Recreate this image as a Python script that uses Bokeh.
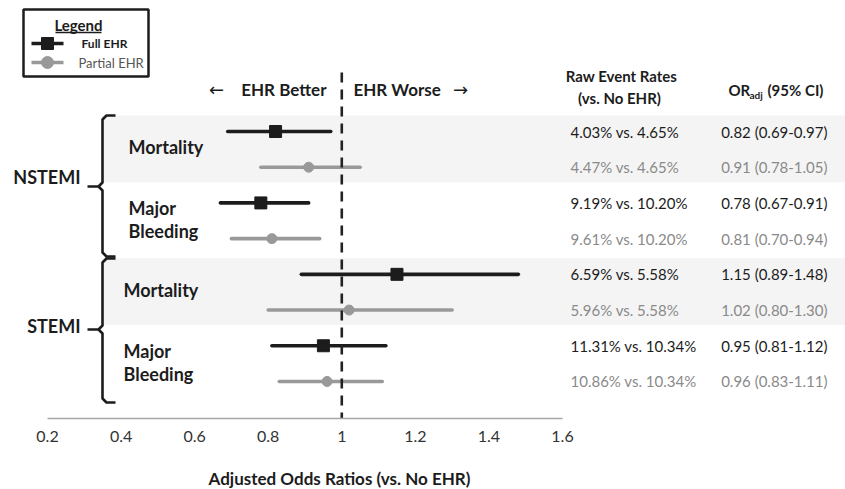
from bokeh.plotting import figure
from bokeh.layouts import column
from bokeh.models import Range1d, FixedTicker, CustomJSTickFormatter, ColumnDataSource, Label
from bokeh.core.properties import value
from bokeh.embed import file_html
from bokeh.resources import INLINE

# ---------------- data ----------------
groups = ["NSTEMI", "STEMI"]
outcomes = ["Mortality", "Major Bleeding", "Mortality", "Major Bleeding"]
outcome_group = ["NSTEMI", "NSTEMI", "STEMI", "STEMI"]
full_or = [0.82, 0.78, 1.15, 0.95]
full_lo = [0.69, 0.67, 0.89, 0.81]
full_hi = [0.97, 0.91, 1.48, 1.12]
partial_or = [0.91, 0.81, 1.02, 0.96]
partial_lo = [0.78, 0.70, 0.80, 0.83]
partial_hi = [1.05, 0.94, 1.30, 1.11]
full_rate = [4.03, 9.19, 6.59, 11.31]
partial_rate = [4.47, 9.61, 5.96, 10.86]
no_ehr_rate = [4.65, 10.20, 5.58, 10.34]
x_ticks = [0.2, 0.4, 0.6, 0.8, 1.0, 1.2, 1.4, 1.6]
null_or = 1.0
x_title = "Adjusted Odds Ratios (vs. No EHR)"

# ---------------- layout helpers (pixel layout of the page) ----------------
AX_L_PX, AX_R_PX = 47, 562          # pixel positions of first / last tick
ROW0_PX, ROW_STEP = 131, 35.71       # first row and row spacing
W, H, AXIS_Y_PX, MAIN_H = 845, 489, 418, 458


def x_at(px):
    return x_ticks[0] + (px - AX_L_PX) * (x_ticks[-1] - x_ticks[0]) / (AX_R_PX - AX_L_PX)


def y_at(py):
    return -(py - ROW0_PX) / ROW_STEP


FONT = value("Lato")
BLACK = "#1c1c1c"
GRAY = "#999999"
TEXT_GRAY = "#8a8a8a"

p = figure(width=W, height=MAIN_H, output_backend="svg", toolbar_location=None,
           x_range=Range1d(x_at(0), x_at(W)), y_range=Range1d(y_at(AXIS_Y_PX), y_at(0)),
           x_axis_location="below", y_axis_location=None,
           min_border_left=0, min_border_right=0, min_border_top=0,
           min_border_bottom=MAIN_H - AXIS_Y_PX)
p.grid.visible = False
p.outline_line_color = None
p.background_fill_color = "white"

ax = p.xaxis[0]
ax.ticker = FixedTicker(ticks=x_ticks)
ax.formatter = CustomJSTickFormatter(code="return tick.toString();")
ax.bounds = (x_ticks[0], x_ticks[-1])
ax.axis_line_color = "#a6a6a6"
ax.axis_line_width = 1.5
ax.major_tick_out = 0
ax.major_tick_in = 0
ax.minor_tick_out = 0
ax.minor_tick_in = 0
ax.major_label_standoff = 12
ax.major_label_text_font = "Lato"
ax.major_label_text_font_size = "16px"
ax.major_label_text_color = "#333333"

# ---------------- row positions ----------------
n = len(outcomes)
full_y = [-(2 * i) for i in range(n)]
partial_y = [-(2 * i + 1) for i in range(n)]

# shaded bands for the mortality rows
band_top = [full_y[i] + 0.45 for i in range(n) if outcomes[i] == "Mortality"]
band_bot = [partial_y[i] - 0.42 for i in range(n) if outcomes[i] == "Mortality"]
p.quad(left=x_at(102), right=x_at(W), top=band_top, bottom=band_bot,
       fill_color="#f4f4f4", line_color=None)

# error bars
p.segment(x0=full_lo, x1=full_hi, y0=full_y, y1=full_y, line_color=BLACK, line_width=3.6, line_cap="round")
p.segment(x0=partial_lo, x1=partial_hi, y0=partial_y, y1=partial_y, line_color=GRAY, line_width=3.6, line_cap="round")

# reference line
p.segment(x0=[null_or], x1=[null_or], y0=[y_at(72)], y1=[y_at(AXIS_Y_PX)], line_color="#222222",
          line_width=2.6, line_dash="10 7")

p.scatter(x=full_or, y=full_y, marker="square", size=12, fill_color=BLACK, line_color=BLACK)
p.scatter(x=partial_or, y=partial_y, marker="circle", size=10, fill_color=GRAY, line_color=GRAY)

# ---------------- table text ----------------
rate_full = [f"{a:.2f}% vs. {b:.2f}%" for a, b in zip(full_rate, no_ehr_rate)]
rate_part = [f"{a:.2f}% vs. {b:.2f}%" for a, b in zip(partial_rate, no_ehr_rate)]
or_full = [f"{o:.2f} ({l:.2f}-{h:.2f})" for o, l, h in zip(full_or, full_lo, full_hi)]
or_part = [f"{o:.2f} ({l:.2f}-{h:.2f})" for o, l, h in zip(partial_or, partial_lo, partial_hi)]

for ys, rt, ort, col in [(full_y, rate_full, or_full, BLACK), (partial_y, rate_part, or_part, TEXT_GRAY)]:
    src = ColumnDataSource(dict(y=ys, rt=rt, ort=ort))
    p.text(x=x_at(570), y="y", text="rt", source=src, text_font=FONT, text_font_size="15px",
           text_color=col, text_align="left", text_baseline="middle")
    p.text(x=x_at(827), y="y", text="ort", source=src, text_font=FONT, text_font_size="15px",
           text_color=col, text_align="right", text_baseline="middle")


def put(fig, px, py, text, size, bold=True, color=BLACK, align="left", font="Lato"):
    fig.add_layout(Label(x=x_at(px), y=y_at(py), text=text, text_font=font, text_font_size=f"{size}px",
                         text_font_style="bold" if bold else "normal", text_color=color,
                         text_align=align, text_baseline="middle"))


# headers
put(p, 621, 75, "Raw Event Rates", 15, align="center")
put(p, 619, 97, "(vs. No EHR)", 15, align="center")
put(p, 728, 89, "OR", 15)
put(p, 749, 94, "adj", 10)
put(p, 767, 89, "(95% CI)", 15)
put(p, 216, 89, "\u2190", 18, bold=False, align="center", font="DejaVu Sans")
put(p, 326, 89, "EHR Better", 17, align="right")
put(p, 353, 89, "EHR Worse", 17)
put(p, 460, 89, "\u2192", 18, bold=False, align="center", font="DejaVu Sans")

# outcome labels
label_x = {"NSTEMI": 128, "STEMI": 123}
for i, (o, g) in enumerate(zip(outcomes, outcome_group)):
    mid = (full_y[i] + partial_y[i]) / 2
    words = o.split(" ")
    offs = [-2] if len(words) == 1 else [-13, 10]
    for w, off in zip(words, offs):
        p.text(x=[x_at(label_x[g])], y=[mid], text=[w], y_offset=off, text_font=FONT,
               text_font_size="18px", text_font_style="bold", text_color=BLACK,
               text_align="left", text_baseline="middle")

# group labels and braces
brace_px = {"NSTEMI": (115, 186, 256), "STEMI": (258, 329, 402)}
glabel_dy = {"NSTEMI": -10, "STEMI": -4}
for g in groups:
    top, mid, bot = brace_px[g]
    vx, hx, tx, r = 102, 115, 87, 4
    p.line(x=[x_at(v) for v in (hx, vx + r, vx, vx, vx - r, tx)],
           y=[y_at(v) for v in (top, top, top + r, mid - r, mid, mid)],
           line_color=BLACK, line_width=2.6, line_join="round")
    p.line(x=[x_at(v) for v in (vx - r, vx, vx, vx + r, hx)],
           y=[y_at(v) for v in (mid, mid + r, bot - r, bot, bot)],
           line_color=BLACK, line_width=2.6, line_join="round")
    put(p, 80, mid + glabel_dy[g], g, 18, align="right")

# legend box
p.quad(left=x_at(23), right=x_at(148), top=y_at(9), bottom=y_at(76), fill_color="white",
       line_color=BLACK, line_width=2.5)
put(p, 78, 24, "Legend", 15, align="center")
p.line(x=[x_at(55), x_at(101)], y=[y_at(32), y_at(32)], line_color=BLACK, line_width=1.3)
p.line(x=[x_at(31), x_at(63)], y=[y_at(43), y_at(43)], line_color=BLACK, line_width=3.5)
p.scatter(x=[x_at(47)], y=[y_at(43)], marker="square", size=12, fill_color=BLACK, line_color=BLACK)
put(p, 81, 43, "Full EHR", 12)
p.line(x=[x_at(31), x_at(63)], y=[y_at(62), y_at(62)], line_color=GRAY, line_width=3.5)
p.scatter(x=[x_at(47)], y=[y_at(62)], marker="circle", size=12, fill_color=GRAY, line_color=GRAY)
put(p, 78, 62, "Partial EHR", 13, bold=False, color="#555555")

# ---------------- x-axis title strip ----------------
p2 = figure(width=W, height=H - MAIN_H, output_backend="svg", toolbar_location=None,
            x_range=p.x_range, y_range=Range1d(y_at(H), y_at(MAIN_H)),
            x_axis_location=None, y_axis_location=None,
            min_border_left=0, min_border_right=0, min_border_top=0, min_border_bottom=0)
p2.grid.visible = False
p2.outline_line_color = None
p2.text(x=[x_at(339)], y=[y_at(478)], text=[x_title], text_font=FONT, text_font_size="17px",
        text_font_style="bold", text_color=BLACK, text_align="center", text_baseline="middle")

open("out.html", "w").write(file_html(column(p, p2, spacing=0), INLINE))
